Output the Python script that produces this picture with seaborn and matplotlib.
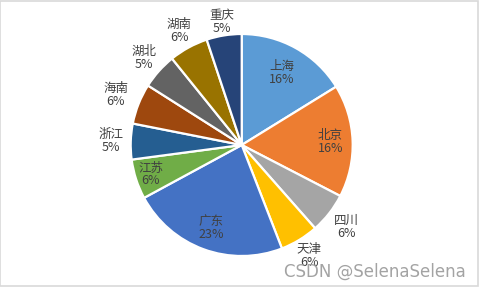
import numpy as np
import matplotlib
matplotlib.use("Agg")
import matplotlib.pyplot as plt
import seaborn as sns
from matplotlib.patches import Rectangle

# Data (share of total)
cities = ["上海", "北京", "四川", "天津", "广东", "江苏", "浙江", "海南", "湖北", "湖南", "重庆"]
values = [16.2, 16.4, 5.9, 5.6, 23.0, 5.8, 5.2, 5.9, 5.2, 5.7, 5.1]
colors = ["#5B9BD5", "#ED7D31", "#A5A5A5", "#FFC000", "#4472C4", "#70AD47",
          "#255E91", "#9E480E", "#636363", "#997300", "#264478"]

# label distance from centre (fraction of radius), inside vs outside
label_r = [0.74, 0.8, 1.2, 1.17, 0.8, 0.86, 1.18, 1.22, 1.18, 1.17, 1.12]

sns.set_theme(style="white")
plt.rcParams["font.family"] = ["Noto Sans CJK SC", "DejaVu Sans"]

W, H = 481, 289
R = 111.0
cx, cy = 241.7, 145.0

fig = plt.figure(figsize=(W / 100, H / 100), dpi=100)
ax = fig.add_axes([0, 0, 1, 1])

wedges, _ = ax.pie(values, colors=colors, startangle=90, counterclock=False,
                   radius=1.0, wedgeprops=dict(edgecolor="white", linewidth=1.6))

total = sum(values)
for w, name, v, r in zip(wedges, cities, values, label_r):
    ang = np.deg2rad((w.theta1 + w.theta2) / 2)
    x, y = r * np.cos(ang), r * np.sin(ang)
    ax.text(x, y, f"{name}\n{round(v / total * 100):.0f}%", ha="center", va="center",
            fontsize=9, color="#404040", linespacing=1.0)

ax.set_xlim(-cx / R, (W - cx) / R)
ax.set_ylim(-(H - cy) / R, cy / R)
ax.set_aspect("auto")
ax.axis("off")

# chart area border
fig.patches.append(Rectangle((0.001, 0.01), 0.992, 0.988, transform=fig.transFigure,
                             fill=False, edgecolor="#d9d9d9", linewidth=1.2))

# watermark
fig.text(466 / W, 1 - 272 / H, "CSDN @SelenaSelena", ha="right", va="center",
         fontsize=12, color="#999999", alpha=0.9, family=["DejaVu Sans"])

fig.savefig("out.png", dpi=100)
